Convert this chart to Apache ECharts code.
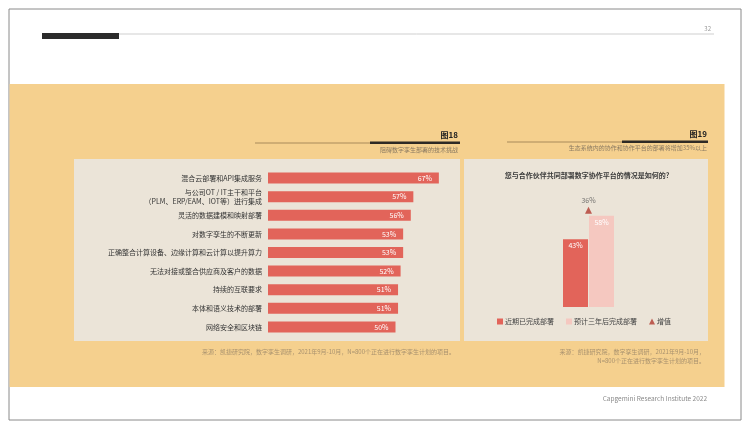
<!DOCTYPE html>
<html><head><meta charset="utf-8">
<script src="https://cdn.jsdelivr.net/npm/echarts@6/dist/echarts.min.js"></script>
<style>html,body{margin:0;padding:0;background:#fff}#c{width:750px;height:429px}</style>
</head><body><div id="c"></div>
<script>
const challengeCats = ['混合云部署和API集成服务','与公司OT / IT主干和平台\n（PLM、ERP/EAM、IOT等）进行集成','灵活的数据建模和映射部署','对数字孪生的不断更新','正确整合计算设备、边缘计算和云计算以提升算力','无法对接或整合供应商及客户的数据','持续的互联要求','本体和语义技术的部署','网络安全和区块链'];
const challengeVals = [67,57,56,53,53,52,51,51,50];
const collabCat = ['协作平台'];
const deployedNow = [43];
const deployedIn3y = [58];
const increaseLabel = '36%';
const increaseMarker = [61.5];
const legendNames = ['近期已完成部署','预计三年后完成部署','增值'];

const F = '"Noto Sans CJK SC","Noto Sans",sans-serif';
const chart = echarts.init(document.getElementById('c'), null, {renderer:'canvas'});
chart.setOption({
  backgroundColor:'#fff',
  animation:false,
  graphic:[
    {type:'rect',shape:{x:9,y:9,width:732,height:411},style:{fill:'#fff',stroke:'#8a8a8a',lineWidth:1},z:-10},
    {type:'line',shape:{x1:119,y1:34,x2:714,y2:34},style:{stroke:'#cfcfcf',lineWidth:1},z:-9},
    {type:'rect',shape:{x:42,y:33,width:77,height:6},style:{fill:'#2b2b2b'},z:-9},
    {type:'text',x:711,y:29,style:{text:'32',font:'6px '+F,fill:'#999',align:'right',verticalAlign:'middle'},z:-9},
    {type:'rect',shape:{x:9.5,y:84,width:715,height:303},style:{fill:'#f5d08e'},z:-9},
    {type:'rect',shape:{x:74,y:159,width:386,height:182},style:{fill:'#ebe4d8'},z:-8},
    {type:'rect',shape:{x:464,y:159,width:244,height:182},style:{fill:'#ebe4d8'},z:-8},
    {type:'line',shape:{x1:255,y1:143,x2:370,y2:143},style:{stroke:'#a88a5a',lineWidth:1},z:-7},
    {type:'rect',shape:{x:370,y:141.5,width:90,height:2.5},style:{fill:'#2e2a25'},z:-7},
    {type:'text',x:458,y:135,style:{text:'图18',font:'bold 8px '+F,fill:'#222',align:'right',verticalAlign:'middle'},z:-7},
    {type:'text',x:458,y:149.5,style:{text:'阻碍数字孪生部署的技术挑战',font:'6px '+F,fill:'#8a7a62',align:'right',verticalAlign:'middle'},z:-7},
    {type:'line',shape:{x1:507,y1:142,x2:622,y2:142},style:{stroke:'#a88a5a',lineWidth:1},z:-7},
    {type:'rect',shape:{x:622,y:140.5,width:86,height:2.5},style:{fill:'#2e2a25'},z:-7},
    {type:'text',x:707,y:133.5,style:{text:'图19',font:'bold 8px '+F,fill:'#222',align:'right',verticalAlign:'middle'},z:-7},
    {type:'text',x:707,y:148,style:{text:'生态系统内的协作和协作平台的部署将增加35%以上',font:'6px '+F,fill:'#8a7a62',align:'right',verticalAlign:'middle'},z:-7},
    {type:'text',x:587,y:175.5,style:{text:'您与合作伙伴共同部署数字协作平台的情况是如何的?',font:'bold 7px '+F,fill:'#3a3a3a',align:'center',verticalAlign:'middle'},z:-7},
    {type:'text',x:455,y:352,style:{text:'来源：凯捷研究院，数字孪生调研，2021年9月-10月，N=800个正在进行数字孪生计划的项目。',font:'6px '+F,fill:'#a8916e',align:'right',verticalAlign:'middle'},z:-7},
    {type:'text',x:705,y:352,style:{text:'来源：凯捷研究院，数字孪生调研，2021年9月-10月，',font:'6px '+F,fill:'#a8916e',align:'right',verticalAlign:'middle'},z:-7},
    {type:'text',x:705,y:361,style:{text:'N=800个正在进行数字孪生计划的项目。',font:'6px '+F,fill:'#a8916e',align:'right',verticalAlign:'middle'},z:-7},
    {type:'text',x:707,y:399,style:{text:'Capgemini Research Institute 2022',font:'6.5px '+F,fill:'#8a8a8a',align:'right',verticalAlign:'middle'},z:-7}
  ],
  grid:[
    {left:268,top:168.7,width:255,height:167.6},
    {left:553,top:149.5,width:71,height:157.5}
  ],
  xAxis:[
    {gridIndex:0,type:'value',min:0,max:100,show:false},
    {gridIndex:1,type:'category',data:collabCat,show:false}
  ],
  yAxis:[
    {gridIndex:0,type:'category',data:challengeCats,inverse:true,
      axisLine:{show:false},axisTick:{show:false},
      axisLabel:{margin:6,fontSize:7,fontFamily:F,color:'#333',lineHeight:9}},
    {gridIndex:1,type:'value',min:0,max:100,show:false}
  ],
  legend:{
    data:[{name:legendNames[0],icon:'rect'},{name:legendNames[1],icon:'rect'},{name:legendNames[2],icon:'triangle'}],
    left:492,top:313,itemWidth:6,itemHeight:6,itemGap:12,
    textStyle:{fontSize:7,fontFamily:F,color:'#444',padding:[0,0,0,-3]},
    selectedMode:false
  },
  series:[
    {type:'bar',xAxisIndex:0,yAxisIndex:0,data:challengeVals,barWidth:11,
      itemStyle:{color:'#e2645a'},
      label:{show:true,position:'insideRight',formatter:'{c}%',color:'#fff',fontSize:7,fontFamily:F,offset:[-2,0]}},
    {name:legendNames[0],type:'bar',xAxisIndex:1,yAxisIndex:1,data:deployedNow,barWidth:25,barGap:'4%',
      itemStyle:{color:'#e2645a'},
      label:{show:true,position:'insideTop',formatter:'{c}%',color:'#fff',fontSize:7,fontFamily:F,distance:3}},
    {name:legendNames[1],type:'bar',xAxisIndex:1,yAxisIndex:1,data:deployedIn3y,barWidth:25,barGap:'4%',
      itemStyle:{color:'#f5c8c0'},
      label:{show:true,position:'insideTop',formatter:'{c}%',color:'#fff',fontSize:7,fontFamily:F,distance:3}},
    {name:legendNames[2],type:'scatter',xAxisIndex:1,yAxisIndex:1,data:increaseMarker,symbol:'triangle',symbolSize:7,
      itemStyle:{color:'#b23a30'},
      label:{show:true,position:'top',formatter:increaseLabel,color:'#555',fontSize:7,fontFamily:F,distance:3}}
  ]
});
</script></body></html>
